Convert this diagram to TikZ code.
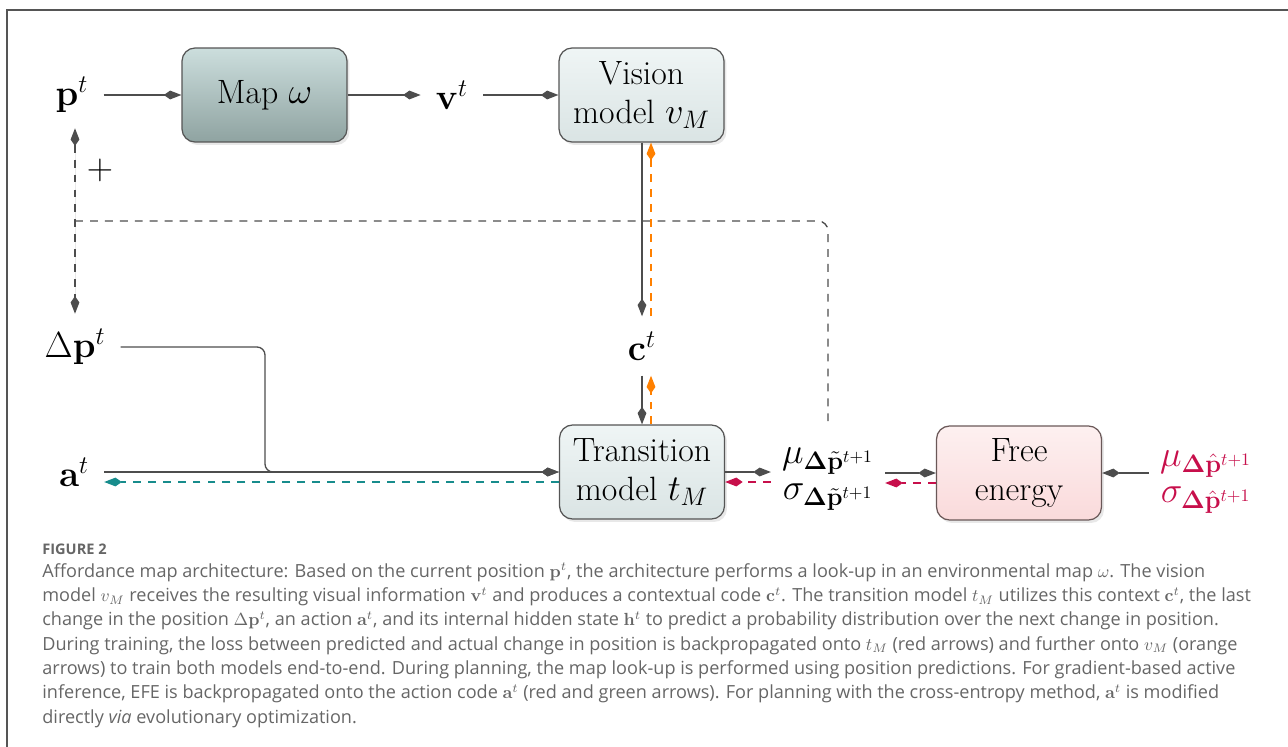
\documentclass[tikz,border=0pt]{standalone}
\usepackage[no-math]{fontspec}
\newfontfamily\capfont{Open Sans}
\usetikzlibrary{arrows.meta,positioning,shadows}

\definecolor{linegray}{HTML}{4D4D4D}
\definecolor{boxline}{HTML}{555555}
\definecolor{maptop}{HTML}{CCDEDD}
\definecolor{mapbot}{HTML}{8FA3A1}
\definecolor{mdltop}{HTML}{EFF5F5}
\definecolor{mdlbot}{HTML}{DAE4E4}
\definecolor{fetop}{HTML}{FDF0F0}
\definecolor{febot}{HTML}{FADADB}
\definecolor{feline}{HTML}{6A5858}
\definecolor{cred}{HTML}{C70F4B}
\definecolor{corange}{HTML}{FF8000}
\definecolor{cteal}{HTML}{178C8C}
\definecolor{capgray}{HTML}{666666}

\begin{document}
\begin{tikzpicture}[x=0.02cm, y=-0.02cm,
        font=\fontsize{19.2}{22.4}\selectfont,
        block/.style={rectangle, rounded corners=0.26cm, draw=boxline, line width=0.7pt,
            minimum width=3.3cm, minimum height=1.88cm, align=center,
            top color=mdltop, bottom color=mdlbot,
            drop shadow={opacity=0.18, shadow xshift=0.05cm, shadow yshift=-0.06cm}},
        mapblock/.style={block, top color=maptop, bottom color=mapbot},
        feblock/.style={block, draw=feline, top color=fetop, bottom color=febot},
        lbl/.style={inner sep=0.3cm},
        dist/.style={inner sep=0.22cm, align=center, font=\fontsize{19.2}{20.6}\selectfont},
        arrow/.style={-{Kite[length=10pt, width=5pt, inset=3.6pt]}, line width=0.75pt, draw=linegray},
        fb/.style={dash pattern=on 4.5pt off 4pt, line width=0.75pt, draw=linegray},
        orangebp/.style={arrow, dash pattern=on 4.5pt off 4pt, draw=corange},
        redbp/.style={arrow, dash pattern=on 4.5pt off 4pt, draw=cred},
        tealbp/.style={arrow, dash pattern=on 4.5pt off 4pt, draw=cteal},
        captxt/.style={font=\capfont\fontsize{10.3}{12}\selectfont, text=capgray, inner sep=0pt},
        caphead/.style={font=\capfont\bfseries\fontsize{8.3}{10}\selectfont, text=capgray, inner sep=0pt}
    ]
    \useasboundingbox (0,0) rectangle (1288,747);
    \draw[boxline, line width=0.6pt] (7,747) -- (7,10) -- (1288,10);

    % upper row
    \node[lbl] (p) at (72,95) {$\mathbf{p}^t$};
    \node[mapblock] (map) at (264.5,95) {Map $\omega$};
    \node[lbl] (v) at (452,95) {$\mathbf{v}^t$};
    \node[block] (vision) at (641.5,95) {Vision\\model $v_M$};
    \node[lbl] (c) at (642,346) {$\mathbf{c}^t$};

    % left column
    \node[lbl] (dp) at (75,347) {$\Delta\mathbf{p}^t$};
    \node[lbl] (a) at (74,472) {$\mathbf{a}^t$};
    \node (plus) at (100,170) {$+$};

    % lower row
    \node[block] (trans) at (642,472) {Transition\\model $t_M$};
    \node[dist] (mu) at (828,479) {$\mu_{\mathbf{\Delta}\tilde{\mathbf{p}}^{t+1}}$\\$\sigma_{\mathbf{\Delta}\tilde{\mathbf{p}}^{t+1}}$};
    \node[feblock] (free) at (1019,473) {Free\\energy};
    \node[dist, text=cred] (tgt) at (1206,482) {$\mu_{\mathbf{\Delta}\hat{\mathbf{p}}^{t+1}}$\\$\sigma_{\mathbf{\Delta}\hat{\mathbf{p}}^{t+1}}$};

    \coordinate (jn) at (76,221);
    \coordinate (bend) at (265,400);

    % forward pass
    \draw[arrow] (p) -- (map);
    \draw[arrow] (map) -- (v);
    \draw[arrow] (v) -- (vision);
    \draw[arrow] (vision.south -| c.north) -- (c.north);
    \draw[arrow] (c.south) -- (c.south |- trans.north);
    \draw[arrow, rounded corners=0.16cm] (dp.east) -- (dp.east -| bend) |- (trans.west);
    \draw[arrow] (a.east) -- (a.east -| trans.west);
    \draw[arrow] (trans.east) -- (trans.east -| mu.west);
    \draw[arrow] (free.west -| mu.east) -- (free.west);
    \draw[arrow] (free.east -| tgt.west) -- (free.east);

    % position update
    \draw[fb, rounded corners=0.2cm] ([yshift=0.3cm]mu.north) |- (jn);
    \draw[fb, {Kite[length=10pt, width=5pt, inset=3.6pt]}-{Kite[length=10pt, width=5pt, inset=3.6pt]}, fill=linegray]
        (dp.north |- p.south) -- (dp.north);

    % backprop
    \draw[redbp] ([yshift=-0.2cm]free.west) -- ([yshift=-0.2cm]free.west -| mu.east);
    \draw[redbp] ([yshift=-0.2cm]trans.east -| mu.west) -- ([yshift=-0.2cm]trans.east);
    \draw[tealbp] ([yshift=-0.2cm]trans.west) -- ([yshift=-0.2cm]trans.west -| a.east);
    \draw[orangebp] ([xshift=0.18cm]c.south |- trans.north) -- ([xshift=0.18cm]c.south);
    \draw[orangebp] ([xshift=0.18cm]c.north) -- ([xshift=0.18cm]c.north |- vision.south);

    % caption
    \node[caphead, anchor=base west] (fig) at (42,554) {FIGURE 2};
    \foreach \txt [count=\i] in {
        {Affordance map architecture: Based on the current position $\mathbf{p}^t$, the architecture performs a look-up in an environmental map $\omega$. The vision},
        {model $v_M$ receives the resulting visual information $\mathbf{v}^t$ and produces a contextual code $\mathbf{c}^t$. The transition model $t_M$ utilizes this context $\mathbf{c}^t$, the last},
        {change in the position $\Delta\mathbf{p}^t$, an action $\mathbf{a}^t$, and its internal hidden state $\mathbf{h}^t$ to predict a probability distribution over the next change in position.},
        {During training, the loss between predicted and actual change in position is backpropagated onto $t_M$ (red arrows) and further onto $v_M$ (orange},
        {arrows) to train both models end-to-end. During planning, the map look-up is performed using position predictions. For gradient-based active},
        {inference, EFE is backpropagated onto the action code $\mathbf{a}^t$ (red and green arrows). For planning with the cross-entropy method, $\mathbf{a}^t$ is modified},
        {directly \emph{via} evolutionary optimization.}
    }{
        \node[captxt, anchor=base west] (cap\i) at (42,{553+24.3*\i}) {\txt};
    }
\end{tikzpicture}
\end{document}
